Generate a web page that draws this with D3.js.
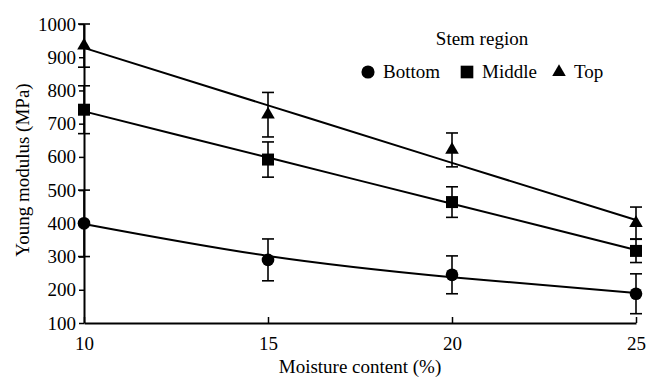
<!DOCTYPE html>
<html><head><meta charset="utf-8">
<script src="https://cdn.jsdelivr.net/npm/d3@7"></script>
<style>
body{margin:0;background:#fff;}
svg, svg text{font-family:"Liberation Serif","Times New Roman",serif !important;}
</style></head><body>
<svg id="c" width="656" height="377"></svg>
<script>
const moisture = [10, 15, 20, 25];
const xTicks = [10, 15, 20, 25];
const yTicks = [100, 200, 300, 400, 500, 600, 700, 800, 900, 1000];
const seriesNames = ["Bottom", "Middle", "Top"];
const bottomMean = [400, 290, 245, 188];
const bottomErr  = [100, 63, 57, 60];
const bottomFit  = [398, 302, 238, 190];
const middleMean = [742, 592, 464, 317];
const middleErr  = [72, 53, 46, 35];
const middleFit  = [737, 598, 459, 320];
const topMean    = [935, 727, 621, 401];
const topErr     = [65, 67, 51, 48];
const topFit     = [928, 755, 582, 410];

const svg = d3.select("#c");
const x = d3.scaleLinear().domain([10, 25]).range([84, 636]);
const y = d3.scaleLinear().domain([100, 1000]).range([323, 24]);

const series = [
  {name: seriesNames[0], mean: bottomMean, err: bottomErr, fit: bottomFit, sym: d3.symbolCircle, size: 125, lsize: 135},
  {name: seriesNames[1], mean: middleMean, err: middleErr, fit: middleFit, sym: d3.symbolSquare, size: 144, lsize: 160},
  {name: seriesNames[2], mean: topMean, err: topErr, fit: topFit, sym: d3.symbolTriangle, size: 80, lsize: 80}
];

// axes
const xAxis = d3.axisBottom(x).tickValues(xTicks).tickSizeInner(-6).tickSizeOuter(0).tickPadding(14).tickFormat(d3.format("d"));
const gx = svg.append("g").attr("transform", "translate(0,323)").call(xAxis).attr("font-family", null).attr("font-size", null);
gx.select(".domain").attr("stroke-width", 2);
gx.selectAll(".tick line").attr("stroke-width", 1.5);
gx.selectAll("text").style("font-size", "19px").attr("fill", "#000");

const yAxis = d3.axisLeft(y).tickValues(yTicks).tickSizeInner(5).tickSizeOuter(0).tickPadding(3).tickFormat(d3.format("d"));
const gy = svg.append("g").attr("transform", "translate(84,0)").call(yAxis).attr("font-family", null).attr("font-size", null);
gy.select(".domain").attr("stroke-width", 2);
gy.selectAll(".tick line").attr("stroke-width", 1.5);
gy.selectAll("text").style("font-size", "19px").attr("fill", "#000");

// fit lines
const line = d3.line().x((d, i) => x(moisture[i])).y(d => y(d)).curve(d3.curveNatural);
series.forEach(s => {
  svg.append("path").attr("d", line(s.fit)).attr("fill", "none").attr("stroke", "#000").attr("stroke-width", 2);
});

// error bars & markers
series.forEach(s => {
  const g = svg.append("g");
  moisture.forEach((m, i) => {
    const cx = x(m), top = y(s.mean[i] + s.err[i]), bot = y(s.mean[i] - s.err[i]);
    g.append("line").attr("x1", cx).attr("x2", cx).attr("y1", top).attr("y2", bot).attr("stroke", "#000").attr("stroke-width", 1.6);
    [top, bot].forEach(yy => g.append("line").attr("x1", cx - 6).attr("x2", cx + 6).attr("y1", yy).attr("y2", yy).attr("stroke", "#000").attr("stroke-width", 1.6));
    g.append("path").attr("d", d3.symbol().type(s.sym).size(s.size)()).attr("transform", `translate(${cx},${y(s.mean[i])})`).attr("fill", "#000");
  });
});

// axis titles
svg.append("text").attr("x", 360).attr("y", 373).attr("text-anchor", "middle").style("font-size", "19px").attr("fill", "#000").text("Moisture content (%)");
svg.append("text").attr("transform", "translate(29,170) rotate(-90)").attr("text-anchor", "middle").style("font-size", "19px").attr("fill", "#000").text("Young modulus (MPa)");

// legend
svg.append("text").attr("x", 482).attr("y", 45).attr("text-anchor", "middle").style("font-size", "19px").attr("fill", "#000").text("Stem region");
const legX = [368, 467, 559];
series.forEach((s, i) => {
  svg.append("path").attr("d", d3.symbol().type(s.sym).size(s.lsize)()).attr("transform", `translate(${legX[i]},${72})`).attr("fill", "#000");
  svg.append("text").attr("x", legX[i] + 15).attr("y", 78).style("font-size", "19px").attr("fill", "#000").text(s.name);
});
</script>
</body></html>
